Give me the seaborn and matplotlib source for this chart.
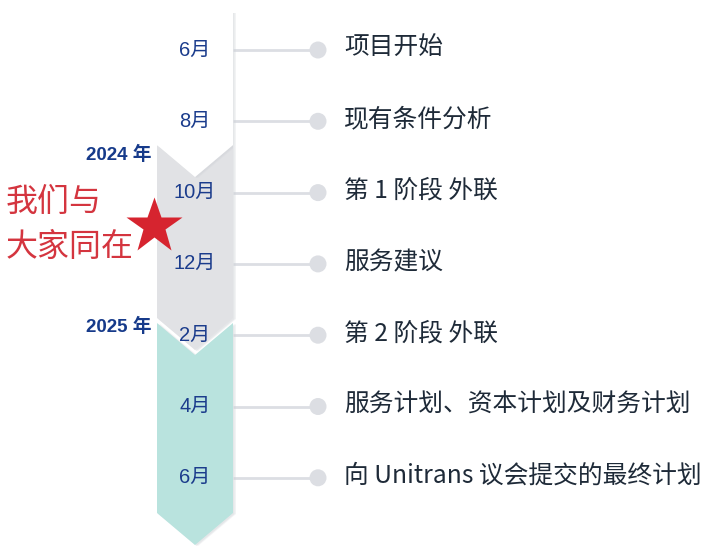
import numpy as np
import pandas as pd
import seaborn as sns
import matplotlib.pyplot as plt
from matplotlib.patches import Polygon

# timeline data
months = ["6月", "8月", "10月", "12月", "2月", "4月", "6月"]
events = ["项目开始", "现有条件分析", "第 1 阶段 外联", "服务建议",
          "第 2 阶段 外联", "服务计划、资本计划及财务计划", "向 Unitrans 议会提交的最终计划"]
years = ["2024 年", "2025 年"]
slogan = ["我们与", "大家同在"]

sns.set_theme(style="white")
plt.rcParams['font.family'] = ['Noto Sans CJK SC', 'DejaVu Sans']

fig = plt.figure(figsize=(7.08, 5.47), dpi=100)
ax = fig.add_axes([0, 0, 1, 1])
ax.set_xlim(0, 708)
ax.set_ylim(547, 0)
ax.axis("off")

# row positions (pixel-like units)
y0, step = 50, 71.3
df = pd.DataFrame({"month": months, "event": events})
df["y"] = y0 + step * np.arange(len(df))
df["x_dot"] = 318

xl, xr, xc = 157, 233, 195
notch = 32

def chevron(top, bottom, color, z, notch_top=True):
    if notch_top:
        pts = [(xl, top), (xc, top + notch), (xr, top),
               (xr, bottom), (xc, bottom + notch), (xl, bottom)]
    else:
        pts = [(xl, top), (xr, top), (xr, bottom), (xc, bottom + notch), (xl, bottom)]
    # soft shadow
    for off, a in [(3, 0.25), (1.5, 0.35)]:
        sh = [(x + off, y + 1) for x, y in pts]
        ax.add_patch(Polygon(sh, closed=True, fc="#cfd2d7", ec="none", alpha=a, zorder=z - 0.5))
    ax.add_patch(Polygon(pts, closed=True, fc=color, ec="none", zorder=z))

chevron(323, 513, "#b9e3de", 3)
chevron(145, 318, "#e1e2e5", 4)
chevron(12, 145, "#ffffff", 5, notch_top=False)

# connector lines and dots
ax.hlines(df["y"], xr, df["x_dot"], color="#dcdee3", lw=2, zorder=1)
sns.scatterplot(data=df, x="x_dot", y="y", s=150, color="#dcdee3",
                edgecolor="none", ax=ax, zorder=2, legend=False)
ax.set_xlabel("")
ax.set_ylabel("")

for _, r in df.iterrows():
    ax.text(xc, r["y"], r["month"], ha="center", va="center", fontsize=14.5,
            color="#1b3c8c", family=["Liberation Sans", "Noto Sans CJK SC"], zorder=10)
    ax.text(344, r["y"] - 2, r["event"], ha="left", va="center", fontsize=17.8,
            color="#1e2a38", zorder=10)

# year labels
for yl, yy in zip(years, [155, 327]):
    ax.text(152, yy, yl, ha="right", va="center", fontsize=13.5, fontweight="bold",
            color="#163a8a", family=["Liberation Sans", "Noto Sans CJK SC"], zorder=10)

# slogan + star
ax.text(6, 202, slogan[0], ha="left", va="center", fontsize=23, color="#d4353f",
        fontweight="light", zorder=10)
ax.text(6, 247, slogan[1], ha="left", va="center", fontsize=23, color="#d4353f",
        fontweight="light", zorder=10)
ax.plot([154], [226], marker="*", ms=42, color="#d6242f", mec="none", zorder=11)

fig.savefig("out.png", dpi=100)
